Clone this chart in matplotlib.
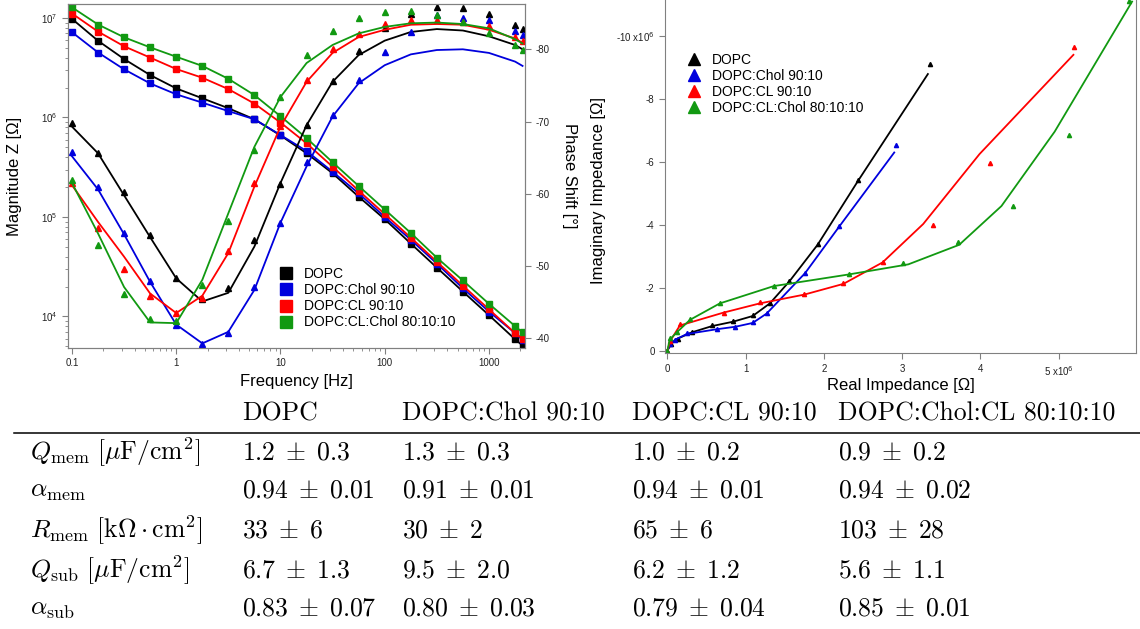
import numpy as np
import matplotlib
matplotlib.use("Agg")
import matplotlib.pyplot as plt
from matplotlib.lines import Line2D

plt.rcParams['font.family'] = ['Liberation Sans', 'DejaVu Sans']
plt.rcParams['axes.unicode_minus'] = False

# colours of the four membranes
c_dopc, c_chol, c_cl, c_clchol = 'black', '#0000dd', '#ff0000', '#119911'
names = ['DOPC', 'DOPC:Chol 90:10', 'DOPC:CL 90:10', 'DOPC:CL:Chol 80:10:10']

# Bode data
freq = [0.1, 0.178, 0.316, 0.562, 1, 1.78, 3.16, 5.62, 10, 17.8, 31.6, 56.2,
        100, 178, 316, 562, 1000, 1780, 2100]

mag_dopc = [9.8e6, 5.9e6, 3.87e6, 2.67e6, 1.96e6, 1.56e6, 1.24e6, 9.6e5, 6.6e5, 4.37e5,
            2.75e5, 1.6e5, 9.5e4, 5.4e4, 3.1e4, 1.78e4, 1.03e4, 5.9e3, 5.1e3]
mag_chol = [7.2e6, 4.5e6, 3.05e6, 2.2e6, 1.71e6, 1.41e6, 1.16e6, 9.6e5, 6.67e5, 4.6e5,
            2.85e5, 1.73e5, 1.0e5, 5.9e4, 3.4e4, 1.92e4, 1.12e4, 6.8e3, 5.8e3]
mag_cl = [1.11e7, 7.3e6, 5.2e6, 4.0e6, 3.07e6, 2.51e6, 1.93e6, 1.38e6, 8.9e5, 5.5e5,
          3.2e5, 1.84e5, 1.07e5, 6.2e4, 3.55e4, 2.04e4, 1.18e4, 6.8e3, 6.0e3]
mag_clchol = [1.28e7, 8.6e6, 6.4e6, 5.07e6, 4.08e6, 3.3e6, 2.45e6, 1.68e6, 1.03e6, 6.2e5,
              3.55e5, 2.05e5, 1.19e5, 6.9e4, 3.9e4, 2.3e4, 1.34e4, 8.0e3, 6.9e3]

ph_dopc = [-69.8, -65.7, -60.2, -54.3, -48.4, -45.5, -46.9, -53.6, -61.3, -69.5,
           -75.6, -79.7, -82.9, -84.9, -85.9, -85.7, -84.9, -83.4, -82.8]
ph_chol = [-65.8, -60.9, -54.6, -47.9, -41.8, -39.2, -40.8, -47.1, -56.0, -64.4,
           -70.9, -75.8, -79.6, -82.4, -84.8, -84.3, -84.0, -82.6, -82.0]
ph_cl = [-61.5, -55.2, -49.6, -45.8, -43.5, -45.6, -52.1, -61.5, -69.4, -75.8,
         -80.0, -82.1, -83.5, -84.1, -84.1, -83.8, -83.2, -81.7, -81.2]
ph_clchol = [-61.9, -52.9, -46.1, -42.7, -42.4, -47.4, -56.2, -66.1, -73.4, -79.2,
             -82.6, -84.3, -85.2, -85.3, -84.8, -83.8, -82.3, -80.6, -79.9]

phfit_dopc = [-69.3, -65.6, -59.8, -54.0, -48.3, -45.1, -46.3, -52.7, -61.5, -69.5,
              -75.5, -79.2, -81.2, -82.4, -82.8, -82.6, -81.8, -80.6, -80.0]
phfit_chol = [-65.2, -60.6, -54.4, -47.8, -41.9, -39.3, -40.9, -46.7, -56.0, -63.8,
              -70.7, -75.3, -77.8, -79.3, -79.9, -80.0, -79.5, -78.3, -77.7]
phfit_cl = [-61.2, -56.1, -51.3, -46.2, -43.5, -45.9, -51.8, -61.0, -69.3, -75.5,
            -79.5, -81.7, -82.7, -83.4, -83.5, -83.4, -82.7, -81.5, -80.9]
phfit_clchol = [-61.5, -54.5, -47.1, -42.2, -42.1, -48.1, -57.3, -66.5, -73.4, -78.1,
                -80.6, -82.2, -83.1, -83.6, -83.7, -83.5, -82.9, -81.4, -80.8]

# Nyquist data (x10^6 Ohm), imaginary part given as -Z''
re_dopc = [0, 0.05, 0.13, 0.31, 0.57, 0.84, 1.09, 1.31, 1.56, 1.92, 2.44, 3.36]
im_dopc = [0, 0.20, 0.38, 0.60, 0.82, 0.94, 1.13, 1.50, 2.21, 3.38, 5.42, 9.10]
refit_dopc = [0, 0.05, 0.13, 0.31, 0.57, 0.84, 1.09, 1.31, 1.56, 1.92, 2.44, 3.33]
imfit_dopc = [0, 0.22, 0.38, 0.58, 0.78, 0.92, 1.10, 1.50, 2.20, 3.36, 5.40, 8.78]

re_chol = [0, 0.04, 0.10, 0.25, 0.63, 0.87, 1.09, 1.27, 1.76, 2.20, 2.92]
im_chol = [0, 0.20, 0.35, 0.55, 0.69, 0.76, 0.90, 1.19, 2.48, 3.97, 6.52]
refit_chol = [0, 0.04, 0.10, 0.25, 0.63, 0.87, 1.09, 1.27, 1.76, 2.20, 2.90]
imfit_chol = [0, 0.20, 0.35, 0.53, 0.68, 0.76, 0.88, 1.18, 2.46, 3.95, 6.29]

re_cl = [0, 0.04, 0.16, 0.72, 1.18, 1.75, 2.25, 2.75, 3.40, 4.12, 5.20]
im_cl = [0, 0.30, 0.85, 1.21, 1.54, 1.80, 2.14, 2.83, 3.99, 5.95, 9.63]
refit_cl = [0, 0.04, 0.16, 0.72, 1.18, 1.75, 2.25, 2.75, 3.27, 3.99, 5.19]
imfit_cl = [0, 0.32, 0.80, 1.21, 1.50, 1.78, 2.12, 2.80, 4.02, 6.24, 9.39]

re_clchol = [0, 0.03, 0.12, 0.29, 0.67, 1.36, 2.32, 3.01, 3.71, 4.42, 5.13, 5.90]
im_clchol = [0, 0.39, 0.60, 1.00, 1.52, 2.06, 2.43, 2.77, 3.44, 4.60, 6.83, 11.11]
refit_clchol = [0, 0.03, 0.12, 0.29, 0.67, 1.36, 2.32, 3.08, 3.73, 4.27, 4.95, 5.94]
imfit_clchol = [0, 0.35, 0.58, 0.98, 1.50, 2.05, 2.42, 2.74, 3.36, 4.59, 6.95, 11.08]

# fit parameter table
row_labels = [r'$Q_{\mathrm{mem}}\ [\mu\mathrm{F/cm}^2]$', r'$\alpha_{\mathrm{mem}}$',
              r'$R_{\mathrm{mem}}\ [\mathrm{k}\Omega\cdot\mathrm{cm}^2]$',
              r'$Q_{\mathrm{sub}}\ [\mu\mathrm{F/cm}^2]$', r'$\alpha_{\mathrm{sub}}$']
col_labels = ['DOPC', 'DOPC:Chol 90:10', 'DOPC:CL 90:10', 'DOPC:Chol:CL 80:10:10']
tab_dopc = ['1.2 \\pm 0.3', '0.94 \\pm 0.01', '33 \\pm 6', '6.7 \\pm 1.3', '0.83 \\pm 0.07']
tab_chol = ['1.3 \\pm 0.3', '0.91 \\pm 0.01', '30 \\pm 2', '9.5 \\pm 2.0', '0.80 \\pm 0.03']
tab_cl = ['1.0 \\pm 0.2', '0.94 \\pm 0.01', '65 \\pm 6', '6.2 \\pm 1.2', '0.79 \\pm 0.04']
tab_clchol = ['0.9 \\pm 0.2', '0.94 \\pm 0.02', '103 \\pm 28', '5.6 \\pm 1.1', '0.85 \\pm 0.01']

W, H = 1140, 629
fig = plt.figure(figsize=(W / 100, H / 100), dpi=100)

grey = '#808080'
tick_kw = dict(direction='out', colors=grey, labelcolor='#222222', labelsize=7)


def style(ax):
    for s in ax.spines.values():
        s.set_color(grey)
    ax.tick_params(which='both', **tick_kw)
    ax.tick_params(which='major', length=4)
    ax.tick_params(which='minor', length=2.5)


# ---------- Bode plot ----------
ax1 = fig.add_axes([68 / W, 1 - 348 / H, 457 / W, 344 / H])
ax2 = ax1.twinx()
colors = [c_dopc, c_chol, c_cl, c_clchol]
mags = [mag_dopc, mag_chol, mag_cl, mag_clchol]
phs = [ph_dopc, ph_chol, ph_cl, ph_clchol]
phfits = [phfit_dopc, phfit_chol, phfit_cl, phfit_clchol]

handles = []
for c, m, name in zip(colors, mags, names):
    ax1.plot(freq, m, color=c, lw=1.3, marker='s', ms=5, label=name)
    handles.append(Line2D([], [], color=c, marker='s', ls='none', ms=8))
for c, p, pf in zip(colors, phs, phfits):
    ax2.plot(freq, pf, color=c, lw=1.3)
    ax2.plot(freq, p, color=c, ls='none', marker='^', ms=5)

ax1.set_xscale('log')
ax1.set_yscale('log')
ax1.set_xlim(0.0916, 2216)
ax1.set_ylim(4.82e3, 1.383e7)
ax2.set_ylim(-38.66, -86.27)
ax2.set_yticks([-40, -50, -60, -70, -80])
ax1.set_xticks([0.1, 1, 10, 100, 1000])
ax1.set_xticklabels(['0.1', '1', '10', '100', '1000'])
style(ax1)
style(ax2)
ax1.set_xlabel('Frequency [Hz]', fontsize=12)
ax1.set_ylabel('Magnitude Z [Ω]', fontsize=12)
ax2.set_ylabel('Phase Shift [°]', fontsize=12, rotation=270, va='bottom')
ax1.xaxis.set_label_coords(0.5, -0.075)
ax1.yaxis.set_label_coords(-0.1, 0.5)
ax2.yaxis.set_label_coords(1.08, 0.5)
ax2.legend(handles, names, loc='upper left', bbox_to_anchor=(0.45, 0.255),
           frameon=False, fontsize=10, handlelength=0.8, handletextpad=0.9,
           labelspacing=0.15, borderpad=0)

# ---------- Nyquist plot ----------
ax3 = fig.add_axes([665 / W, 1 - 353.3 / H, 471 / W, 353.3 / H])
res = [re_dopc, re_chol, re_cl, re_clchol]
ims = [im_dopc, im_chol, im_cl, im_clchol]
refits = [refit_dopc, refit_chol, refit_cl, refit_clchol]
imfits = [imfit_dopc, imfit_chol, imfit_cl, imfit_clchol]
for c, r, i, rf, imf in zip(colors, res, ims, refits, imfits):
    ax3.plot(rf, -np.array(imf), color=c, lw=1.3)
    ax3.plot(r, -np.array(i), color=c, ls='none', marker='^', ms=3)
ax3.set_xlim(-0.03, 5.99)
ax3.set_ylim(0.083, -11.13)
ax3.set_xticks([0, 1, 2, 3, 4, 5])
ax3.set_xticklabels(['0', '1', '2', '3', '4', '5 x10$^6$'])
ax3.set_yticks([0, -2, -4, -6, -8, -10])
ax3.set_yticklabels(['0', '-2', '-4', '-6', '-8', '-10 x10$^6$'])
style(ax3)
ax3.spines['top'].set_visible(False)
ax3.set_xlabel('Real Impedance [Ω]', fontsize=12)
ax3.set_ylabel('Imaginary Impedance [Ω]', fontsize=12)
ax3.xaxis.set_label_coords(0.5, -0.07)
ax3.yaxis.set_label_coords(-0.125, 0.46)
tri = [Line2D([], [], color=c, marker='^', ls='none', ms=8) for c in colors]
ax3.legend(tri, names, loc='upper left', bbox_to_anchor=(0.035, 0.87),
           frameon=False, fontsize=10, handlelength=0.8, handletextpad=0.9,
           labelspacing=0.15, borderpad=0)

# ---------- table ----------
col_x = [242, 402, 632, 838]
row_y = [452, 491, 530, 570, 609]
fs = 18.5
for x, lab in zip(col_x, col_labels):
    fig.text(x / W, 1 - 414 / H, lab, family='cmr10', fontsize=fs, va='center')
fig.add_artist(Line2D([14 / W, 1], [1 - 433 / H] * 2, color='black', lw=1.1))
for y, lab in zip(row_y, row_labels):
    fig.text(30 / W, 1 - y / H, lab, fontsize=fs, va='center', math_fontfamily='cm')
for x, col in zip(col_x, [tab_dopc, tab_chol, tab_cl, tab_clchol]):
    for y, v in zip(row_y, col):
        fig.text(x / W, 1 - y / H, '$' + v.replace(' \\pm ', '\\;\\pm\\;') + '$',
                 fontsize=fs, va='center', math_fontfamily='cm')

fig.savefig('out.png', dpi=100)
